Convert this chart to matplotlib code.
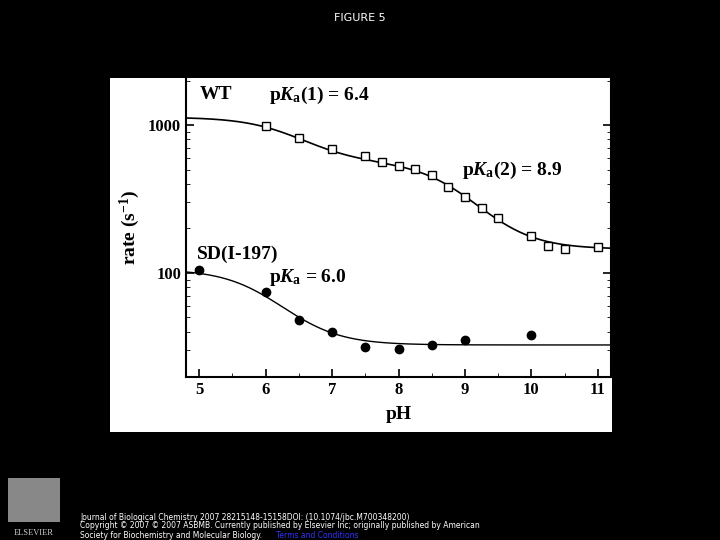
import numpy as np
import matplotlib
matplotlib.use("Agg")
import matplotlib.pyplot as plt
from matplotlib.patches import Rectangle

wt_ph = [6, 6.5, 7, 7.5, 7.75, 8, 8.25, 8.5, 8.75, 9, 9.25, 9.5, 10, 10.25, 10.5, 11]
wt_rate = [985, 820, 688, 618, 560, 531, 505, 459, 383, 325, 274, 236, 177, 152, 145, 149]
sd_ph = [5, 6, 6.5, 7, 7.5, 8, 8.5, 9, 10]
sd_rate = [104, 74.7, 47.9, 40.0, 31.8, 30.8, 32.8, 35.0, 38.0]

# fit parameters (curve model)
wt_pka1, wt_pka2 = 6.4, 8.9
wt_lev = (1130, 560, 145)
sd_pka = 6.0
sd_lev = (106, 32.6)

plt.rcParams["mathtext.fontset"] = "custom"
plt.rcParams["mathtext.rm"] = "Liberation Serif:bold"
plt.rcParams["mathtext.it"] = "Liberation Serif:bold:italic"
plt.rcParams["mathtext.bf"] = "Liberation Serif:bold"

fig = plt.figure(figsize=(7.2, 5.4), dpi=100, facecolor="black")
fig.patches.append(Rectangle((110/720, 1-432/540), 502/720, 354/540,
                             transform=fig.transFigure, facecolor="white", edgecolor="none", zorder=-10))
fig.text(0.5, 1-18/540, "FIGURE 5", color="white", ha="center", va="center", fontsize=8)

ax = fig.add_axes([186/720, 1-377/540, 425/720, 299/540])
ax.set_facecolor("white")
serif = "Liberation Serif"

x = np.linspace(4.8, 11.2, 300)
h1 = 10**(x - wt_pka1); h2 = 10**(2*x - wt_pka1 - wt_pka2)
ywt = (wt_lev[0] + wt_lev[1]*h1 + wt_lev[2]*h2) / (1 + h1 + h2)
hs = 10**(x - sd_pka)
ysd = (sd_lev[0] + sd_lev[1]*hs) / (1 + hs)
ax.plot(x, ywt, color="black", lw=1.2)
ax.plot(x, ysd, color="black", lw=1.0)
ax.plot(wt_ph, wt_rate, "s", mfc="white", mec="black", ms=6, mew=1)
ax.plot(sd_ph, sd_rate, "o", color="black", ms=6)

ax.set_yscale("log")
ax.set_xlim(4.8, 11.2)
ax.set_ylim(19.8, 2080)
ax.set_xticks([5, 6, 7, 8, 9, 10, 11])
ax.set_xticks(np.arange(5.5, 11, 1), minor=True)
ax.set_yticks([100, 1000])
ax.set_yticklabels(["100", "1000"])
ax.tick_params(which="both", direction="in", right=True, labelsize=12)
ax.tick_params(which="major", length=6, width=1.2)
ax.tick_params(which="minor", length=3)
ax.tick_params(axis="y", which="minor", labelleft=False)
for lab in ax.get_xticklabels() + ax.get_yticklabels():
    lab.set_fontfamily(serif); lab.set_fontweight("bold")
ax.spines["top"].set_visible(False)
for s in ["left", "right", "bottom"]:
    ax.spines[s].set_linewidth(1.5)
ax.set_xlabel("pH", fontfamily=serif, fontweight="bold", fontsize=14, labelpad=6)
ax.set_ylabel("rate (s$^{-1}$)", fontfamily=serif, fontweight="bold", fontsize=14, labelpad=4)

kw = dict(fontfamily=serif, fontweight="bold", fontsize=14, transform=ax.transData)
ax.text(5.0, 1500, "WT", **kw)
ax.text(6.05, 1480, r"p$K_{\rm a}$(1) = 6.4", **kw)
ax.text(8.95, 460, r"p$K_{\rm a}$(2) = 8.9", **kw)
ax.text(4.97, 125, "SD(I-197)", **kw)
ax.text(6.05, 87, r"p$K_{\rm a}$ = 6.0", **kw)

foot = ["Journal of Biological Chemistry 2007 28215148-15158DOI: (10.1074/jbc.M700348200)",
        "Copyright © 2007 © 2007 ASBMB. Currently published by Elsevier Inc; originally published by American",
        "Society for Biochemistry and Molecular Biology."]
ys = [518, 526, 535]
for t, yy in zip(foot, ys):
    fig.text(80/720, 1-yy/540, t, color="white", fontsize=5.5, va="center")
fig.text(276/720, 1-535/540, "Terms and Conditions", color="#3333ff", fontsize=5.5, va="center")
fig.patches.append(Rectangle((8/720, 1-522/540), 52/720, 44/540, transform=fig.transFigure,
                             facecolor="#888888", edgecolor="none"))
fig.text(34/720, 1-533/540, "ELSEVIER", color="#cccccc", fontsize=6, ha="center", va="center", fontfamily=serif)

fig.savefig("out.png", dpi=100, facecolor="black")
